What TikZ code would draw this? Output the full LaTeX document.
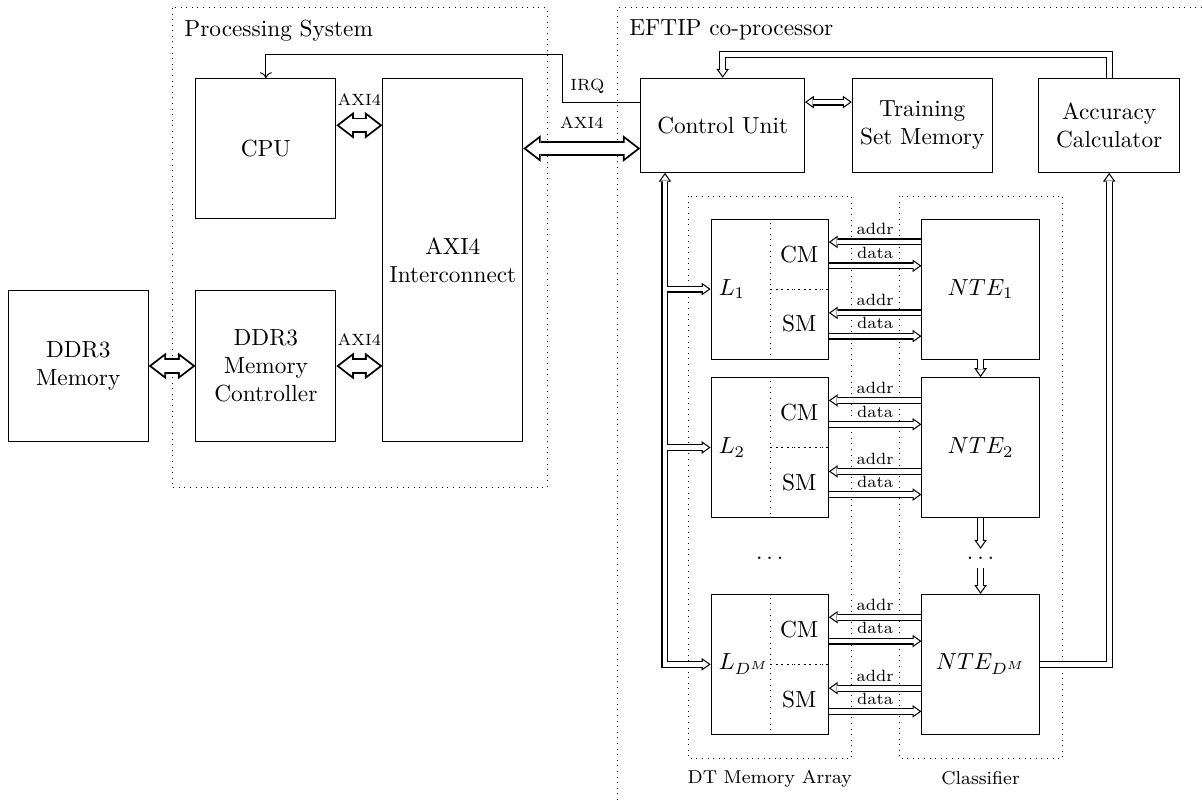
\documentclass[tikz,border=0pt]{standalone}
\usetikzlibrary{arrows.meta,positioning}
\tikzset{
  outtip/.tip={Triangle[length=3.8pt,width=5.4pt,line width=0pt]},
  intip/.tip={Triangle[length=2.44pt,width=3.47pt,line width=0pt]},
  bigout/.tip={Triangle[length=7.5pt,width=11.5pt,line width=0pt]},
  bigin/.tip={Triangle[length=5.39pt,width=8.27pt,line width=0pt]},
  block/.style={draw, align=center, minimum width=2.11cm, minimum height=2.11cm, inner sep=2pt},
  region/.style={draw, dotted},
  bus/.style={line width=3pt, -outtip, postaction={draw, white, line width=2pt, shorten >=0.86pt, -intip}},
  busboth/.style={line width=3pt, outtip-outtip, postaction={draw, white, line width=2pt, shorten >=0.86pt, shorten <=0.86pt, intip-intip}},
  axibus/.style={line width=6.6pt, bigout-bigout, postaction={draw, white, line width=5pt, shorten >=1.31pt, shorten <=1.31pt, bigin-bigin}},
  memsub/.style={draw, dotted, minimum width=0.88cm, minimum height=1.055cm, inner sep=0pt},
  sig/.style={font=\scriptsize, inner sep=1.5pt},
  axilabel/.style={midway, above=2pt, font=\scriptsize}
}
\begin{document}
\begin{tikzpicture}
\useasboundingbox (0,0) rectangle (18.13,12.07);

% regions
\draw[region] (2.60,11.95) rectangle (8.25,4.71);
\node[anchor=north west, inner sep=5pt] at (2.60,11.95) {Processing System};
\draw[region] (18.13,11.95) -- (9.31,11.95) -- (9.31,0);
\node[anchor=north west, inner sep=5pt] at (9.31,11.95) {EFTIP co-processor};
\draw[region] (10.38,9.11) rectangle (12.85,0.63);
\draw[region] (13.56,9.11) rectangle (16.03,0.63);
\node[font=\footnotesize] at (11.61,0.33) {DT Memory Array};
\node[font=\footnotesize] at (14.79,0.33) {Classifier};

% processing system
\node[block] (cpu) at (4.01,9.83) {CPU};
\node[block, minimum height=5.48cm] (inter) at (6.83,8.15) {AXI4\\Interconnect};
\node[block, minimum height=2.29cm] (ctrl) at (4.01,6.55) {DDR3\\Memory\\Controller};
\node[block, minimum height=2.29cm] (ddr) at (1.18,6.55) {DDR3\\Memory};

% co-processor
\node[block, minimum width=2.47cm, minimum height=1.42cm] (cu) at (10.90,10.18) {Control Unit};
\node[block, minimum height=1.42cm] (tsm) at (13.91,10.18) {Training\\Set Memory};
\node[block, minimum width=2.13cm, minimum height=1.42cm] (acc) at (16.73,10.18) {Accuracy\\Calculator};

% memory rows and engines
\foreach \n/\y/\idx in {1/7.71/1, 2/5.32/2, m/2.05/{D^M}} {
  \node[block, minimum width=1.77cm] (l\n) at (11.61,\y) {};
  \node[anchor=west] at (l\n.west) {$L_{\idx}$};
  \node[memsub, anchor=north east] (cm\n) at (l\n.north east) {CM};
  \node[memsub, anchor=south east] (sm\n) at (l\n.south east) {SM};
  \node[block, minimum width=1.77cm] (nte\n) at (14.79,\y) {$NTE_{\idx}$};
  \draw[bus] ([yshift=0.71cm]nte\n.west) -- ([yshift=0.71cm]l\n.east) node[midway, above, sig] {addr};
  \draw[bus] ([yshift=0.35cm]l\n.east) -- ([yshift=0.35cm]nte\n.west) node[midway, above, sig] {data};
  \draw[bus] ([yshift=-0.36cm]nte\n.west) -- ([yshift=-0.36cm]l\n.east) node[midway, above, sig] {addr};
  \draw[bus] ([yshift=-0.71cm]l\n.east) -- ([yshift=-0.71cm]nte\n.west) node[midway, above, sig] {data};
}

% classifier chain
\node (ldots) at (11.61,3.65) {$\dots$};
\node (ndots) at (14.79,3.65) {$\dots$};
\draw[bus] (nte1) -- (nte2);
\draw[bus] (nte2) -- (ndots);
\draw[bus] (ndots) -- (ntem);

% control unit bus
\coordinate (busx) at (10.03,0);
\draw[busboth] (cu.south -| busx) |- (lm.west);
\draw[bus] ([xshift=1pt]l1.west -| busx) -- (l1.west);
\draw[bus] ([xshift=1pt]l2.west -| busx) -- (l2.west);

% feedback
\draw[bus] (ntem.east) -| (acc.south);
\draw[bus] (acc.north) -- ++(0,0.35) -| (cu.north);
\draw[busboth] ([yshift=0.35cm]cu.east) -- ([yshift=0.35cm]tsm.west);

% AXI4 links
\draw[axibus] (ddr) -- (ctrl);
\draw[axibus] (ctrl) -- (inter.west |- ctrl) node[axilabel] {AXI4};
\draw[axibus] (cpu.east |- cu) -- (inter.west |- cu) node[axilabel] {AXI4};
\draw[axibus] (inter.east |- cpu) -- (cu.west |- cpu) node[axilabel] {AXI4};

% interrupt
\draw[->] ([yshift=0.35cm]cu.west) -- ++(-1.18,0) node[above right, font=\scriptsize] {IRQ} |- ([yshift=0.35cm]cpu.north) -- (cpu.north);
\end{tikzpicture}
\end{document}
